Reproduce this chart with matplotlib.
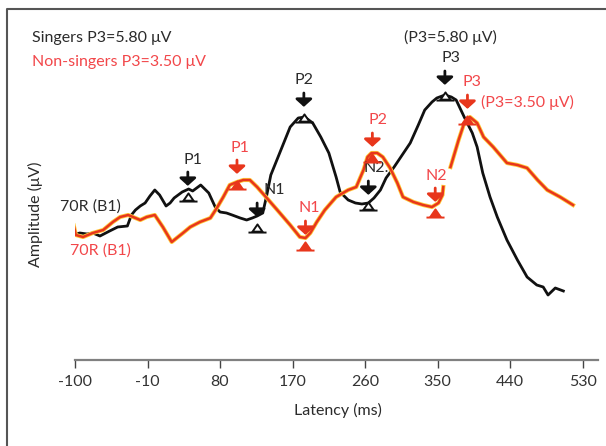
import numpy as np
import matplotlib
matplotlib.use("Agg")
import matplotlib.pyplot as plt
import matplotlib.patheffects as pe
from matplotlib.path import Path
from matplotlib.lines import Line2D
from matplotlib.transforms import offset_copy

plt.rcParams['font.family'] = ['Lato', 'DejaVu Sans']
plt.rcParams['axes.unicode_minus'] = False

# Singers (black) grand average, latency in ms, amplitude in uV
sing_t = [-104, -94, -85, -78, -69, -57, -47, -35, -30, -25, -19, -13, -7, -1, 5, 13, 18, 23,
          33, 41, 46, 56, 66, 74, 80, 88, 95, 105, 113, 120, 126, 133, 138, 143, 149, 157, 167,
          177, 185, 195, 205, 215, 224, 229, 239, 248, 256, 264, 271, 279, 286, 296, 306, 316,
          326, 334, 343, 349, 359, 367, 373, 383, 393, 399, 406, 415, 424, 436, 449, 461, 473,
          481, 487, 496, 506]
sing_a = [-0.12, -0.04, -0.08, -0.04, -0.16, 0.04, 0.20, 0.24, 0.68, 0.88, 1.04, 1.16, 1.44,
          1.68, 1.48, 1.04, 1.16, 1.36, 1.60, 1.72, 1.64, 1.88, 1.56, 1.00, 0.80, 0.76, 0.68,
          0.56, 0.48, 0.56, 0.64, 0.76, 1.48, 2.28, 2.76, 3.40, 4.20, 4.56, 4.60, 4.36, 3.80,
          3.16, 2.20, 1.60, 1.28, 1.16, 1.12, 1.16, 1.36, 1.68, 2.16, 2.60, 3.08, 3.56, 4.28,
          4.88, 5.20, 5.36, 5.48, 5.40, 5.28, 4.60, 3.96, 3.40, 2.36, 1.40, 0.60, -0.32, -1.12,
          -1.80, -2.12, -2.20, -2.52, -2.24, -2.36]

# Non-singers (red) grand average
non_t = [-104, -110, -107, -102, -100, -99, -90, -78, -65, -53, -44, -34, -28, -19, -11, -1,
         9, 20, 34, 43, 55, 68, 76, 84, 92, 101, 109, 117, 126, 138, 151, 167, 179, 186, 192,
         200, 210, 224, 239, 249, 258, 263, 268, 275, 282, 291, 300, 307, 320, 332, 343, 351,
         356, 357, np.nan, 366, 376, 383, 390, 399, 407, 419, 436, 449, 461, 474, 486, 502, 518]
non_a = [-0.24, 0.04, 0.36, 0.32, 0.04, -0.12, -0.20, -0.04, 0.08, 0.40, 0.60, 0.68, 0.60,
         0.48, 0.60, 0.68, 0.20, -0.40, -0.04, 0.20, 0.40, 0.56, 0.96, 1.40, 1.88, 2.00, 2.08,
         2.08, 1.80, 1.36, 0.88, 0.28, -0.20, -0.24, -0.04, 0.40, 0.88, 1.40, 1.68, 1.80, 2.48,
         3.00, 3.16, 3.16, 3.00, 2.56, 1.96, 1.40, 1.20, 1.08, 1.00, 1.16, 1.48, 1.80, np.nan,
         2.60, 3.68, 4.36, 4.60, 4.36, 3.80, 3.40, 2.76, 2.68, 2.56, 2.08, 1.68, 1.40, 1.08]

# marked components
peaks = ["P1", "N1", "P2", "N2", "P3"]
sing_pk_t = [40, 126, 184, 264, 359]
sing_pk_a = [1.40, 0.16, 4.56, 1.04, 5.44]
non_pk_t = [101, 186, 269, 347, 387]
non_pk_a = [1.88, -0.56, 2.96, 0.76, 4.48]
sing_names = ["P1", "N1", "P2", "N2.", "P3"]

xticks = [-100, -10, 80, 170, 260, 350, 440, 530]

BLACK = "#111111"
RED = "#e8361c"
RED_TXT = "#f2474a"
HALO = "#ffc93a"
GREY_TXT = "#2b2b2b"
FS = 11.5

fig = plt.figure(figsize=(6.06, 4.46), dpi=100)
ax = fig.add_axes([75 / 606, 86 / 446, 523 / 606, 340 / 446])
ax.set_xlim(-100, 549)
ax.set_ylim(-5.12, 8.48)
for s in ["left", "right", "top"]:
    ax.spines[s].set_visible(False)
ax.spines["bottom"].set_color("#808080")
ax.spines["bottom"].set_linewidth(1.6)
ax.set_yticks([])
ax.set_xticks(xticks)
ax.tick_params(axis="x", direction="out", length=6, width=1, color="#444444",
               labelsize=FS, labelcolor="#333333", pad=5)

ax.plot(sing_t, sing_a, color=BLACK, lw=2)
ax.plot(non_t, non_a, color=RED, lw=1.8,
        path_effects=[pe.Stroke(linewidth=3.0, foreground=HALO), pe.Normal()])

# triangle marker with base line
tri = Path([(-0.55, -0.35), (0, 0.45), (0.55, -0.35), (-0.55, -0.35), (-1, -0.45), (1, -0.45)],
           [Path.MOVETO, Path.LINETO, Path.LINETO, Path.CLOSEPOLY, Path.MOVETO, Path.LINETO])


def mark(t, a, name, col, fill, txtcol, dx):
    ax.plot(t, a, marker=tri, ms=13, mfc=fill, mec=col, mew=1.4, zorder=5)
    tip = offset_copy(ax.transData, fig=fig, x=0, y=8, units="points")
    ax.annotate("", xy=(t, a), xycoords=tip, xytext=(0, 10), textcoords="offset points",
                arrowprops=dict(arrowstyle="-|>,head_width=0.5,head_length=0.45",
                                color=col, lw=2, shrinkA=0, shrinkB=0), zorder=6)
    ax.annotate(name, xy=(t, a), xytext=(dx, 27), textcoords="offset points",
                ha="center", va="center", fontsize=FS, color=txtcol)


sing_dx = [4, 12, 0, 6, 4]
non_dx = [2, 3, 4, 1, 3]
for i in range(len(peaks)):
    mark(sing_pk_t[i], sing_pk_a[i], sing_names[i], BLACK, "white", GREY_TXT, sing_dx[i])
    mark(non_pk_t[i], non_pk_a[i], peaks[i], RED, RED, RED_TXT, non_dx[i])

fig.text(32 / 606, 1 - 38 / 446, "Singers P3=5.80 μV", fontsize=FS, color=GREY_TXT,
         ha="left", va="center")
fig.text(32 / 606, 1 - 62 / 446, "Non-singers P3=3.50 μV", fontsize=FS, color=RED_TXT,
         ha="left", va="center")
fig.text(404 / 606, 1 - 37 / 446, "(P3=5.80 μV)", fontsize=FS, color=GREY_TXT,
         ha="left", va="center")
fig.text(481 / 606, 1 - 102 / 446, "(P3=3.50 μV)", fontsize=FS, color=RED_TXT,
         ha="left", va="center")
fig.text(90 / 606, 1 - 207 / 446, "70R (B1)", fontsize=FS, color=GREY_TXT,
         ha="center", va="center")
fig.text(100 / 606, 1 - 251 / 446, "70R (B1)", fontsize=FS, color=RED_TXT,
         ha="center", va="center")
fig.text(35 / 606, 1 - 214 / 446, "Amplitude (μV)", fontsize=FS, color=GREY_TXT,
         ha="center", va="center", rotation=90)
fig.text(338 / 606, 1 - 410 / 446, "Latency (ms)", fontsize=FS, color=GREY_TXT,
         ha="center", va="center")

# outer frame (left and top edges)
fig.add_artist(Line2D([7 / 606, 7 / 606, 1], [0, 1 - 9 / 446, 1 - 9 / 446],
                      color="#555555", lw=1.5))

fig.savefig("out.png", dpi=100)
